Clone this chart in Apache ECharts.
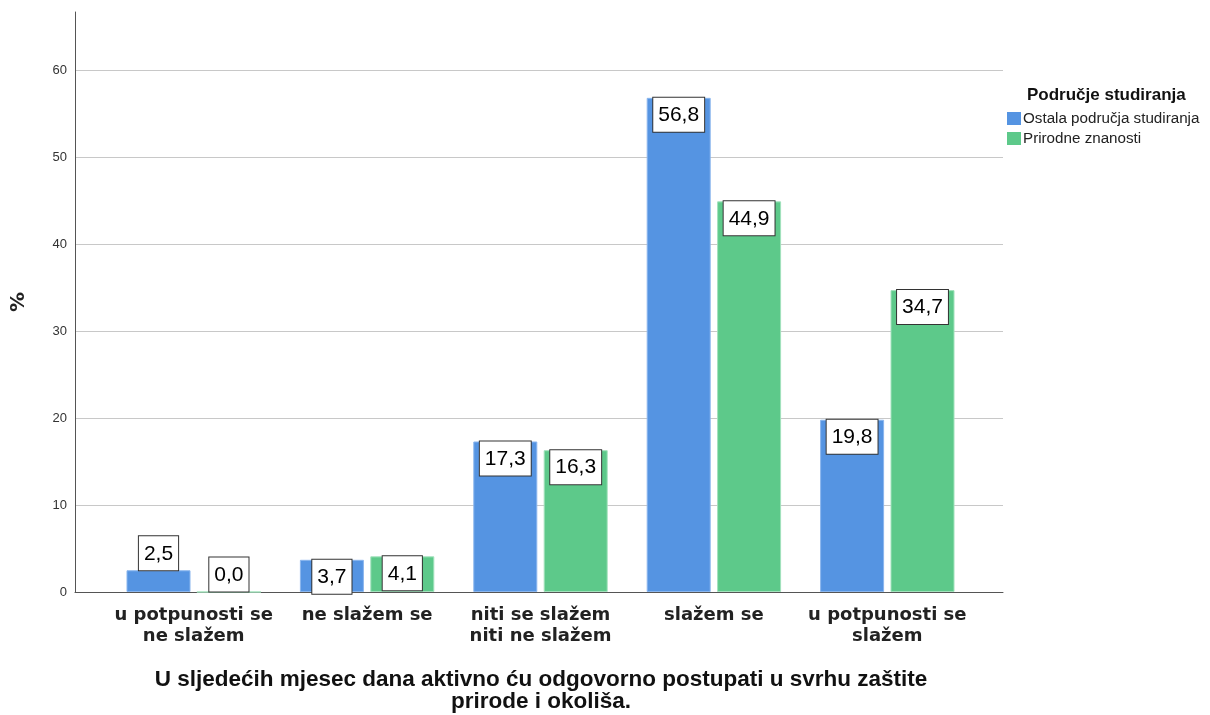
<!DOCTYPE html>
<html>
<head>
<meta charset="utf-8">
<script src="https://cdn.jsdelivr.net/npm/echarts@6/dist/echarts.min.js"></script>
<style>
html,body{margin:0;padding:0;background:#fff;}
#chart{width:1210px;height:715px;}
</style>
</head>
<body>
<div id="chart"></div>
<script>
const categories = ['u potpunosti se\nne slažem', 'ne slažem se', 'niti se slažem\nniti ne slažem', 'slažem se', 'u potpunosti se\nslažem'];
const seriesNames = ['Ostala područja studiranja', 'Prirodne znanosti'];
const ostalaValues = [2.5, 3.7, 17.3, 56.8, 19.8];
const prirodneValues = [0.0, 4.1, 16.3, 44.9, 34.7];
const yTicks = [0, 10, 20, 30, 40, 50, 60];
const legendTitle = 'Područje studiranja';
const xTitle = 'U sljedećih mjesec dana aktivno ću odgovorno postupati u svrhu zaštite\nprirode i okoliša.';
const yTitle = '%';

const blue = '#5594e2';
const green = '#5dc98a';

function labelPos(v) { return v < 3 ? 'top' : 'insideTop'; }

function makeData(vals) {
  return vals.map(v => ({
    value: v,
    label: { position: labelPos(v), distance: 0 }
  }));
}

const labelStyle = {
  show: true,
  formatter: p => p.value.toFixed(1).replace('.', ','),
  fontFamily: 'Liberation Sans, Arial, sans-serif',
  fontSize: 21,
  color: '#000',
  backgroundColor: '#fff',
  borderColor: '#333',
  borderWidth: 1,
  padding: [7, 5, 6, 5]
};

const chart = echarts.init(document.getElementById('chart'));
chart.setOption({
  animation: false,
  backgroundColor: '#fff',
  grid: [
    { left: 75, right: 207, top: 12, bottom: 123, outerBoundsMode: 'none' },
    { left: 75, right: 207, top: 70, bottom: 123, outerBoundsMode: 'none' },
    { left: 107, right: 236, top: 70, bottom: 123, outerBoundsMode: 'none' }
  ],
  xAxis: [
    { gridIndex: 0, type: 'value', min: 0, max: 1, axisLine: { show: true, onZero: false, lineStyle: { color: '#555', width: 1 } }, axisTick: { show: false }, axisLabel: { show: false }, splitLine: { show: false } },
    { gridIndex: 1, type: 'value', min: 0, max: 1, show: false },
    { gridIndex: 2, type: 'category', data: categories,
      axisLine: { show: false }, axisTick: { show: false },
      axisLabel: { interval: 0, margin: 13, fontFamily: 'DejaVu Sans, sans-serif', fontWeight: 'bold', fontSize: 18, lineHeight: 21, color: '#222' } }
  ],
  yAxis: [
    { gridIndex: 0, type: 'value', min: 0, max: 66.67,
      axisLine: { show: true, lineStyle: { color: '#555', width: 1 } }, axisTick: { show: false }, axisLabel: { show: false }, splitLine: { show: false },
      name: yTitle, nameLocation: 'middle', nameRotate: 90, nameGap: 46,
      nameTextStyle: { fontFamily: 'DejaVu Sans, sans-serif', fontWeight: 'bold', fontSize: 20, color: '#222' } },
    { gridIndex: 1, type: 'value', min: 0, max: 60, interval: 10,
      axisLine: { show: false }, axisTick: { show: false },
      axisLabel: { margin: 8, fontFamily: 'Liberation Sans, Arial, sans-serif', fontSize: 13, color: '#333',
        formatter: v => yTicks.includes(v) ? String(v) : '' },
      splitLine: { show: true, lineStyle: { color: '#c8c8c8', width: 1 } } },
    { gridIndex: 2, type: 'value', min: 0, max: 60, show: false }
  ],
  legend: {
    orient: 'vertical', left: 1002, top: 106, itemWidth: 14, itemHeight: 13, itemGap: 5, icon: 'rect',
    itemStyle: { borderWidth: 0 },
    textStyle: { fontFamily: 'Liberation Sans, Arial, sans-serif', fontSize: 15.2, color: '#222', padding: [0, 0, 0, -3] },
    data: seriesNames
  },
  graphic: [
    { type: 'text', left: 1027, top: 87, style: { text: legendTitle, fontFamily: 'Liberation Sans, Arial, sans-serif', fontWeight: 'bold', fontSize: 17, fill: '#111' } },
    { type: 'text', x: 541, y: 669, style: { text: xTitle, align: 'center', fontFamily: 'Liberation Sans, Arial, sans-serif', fontWeight: 'bold', fontSize: 22.5, lineHeight: 22, fill: '#111' } }
  ],
  series: [
    { name: seriesNames[0], type: 'bar', xAxisIndex: 2, yAxisIndex: 2, data: makeData(ostalaValues), barWidth: 64, barGap: '10%',
      itemStyle: { color: blue, borderColor: '#8ab6ee', borderWidth: 1 }, label: labelStyle },
    { name: seriesNames[1], type: 'bar', xAxisIndex: 2, yAxisIndex: 2, data: makeData(prirodneValues), barWidth: 64, barGap: '10%',
      itemStyle: { color: green, borderColor: '#a2e2bc', borderWidth: 1 }, label: labelStyle }
  ]
});
</script>
</body>
</html>
